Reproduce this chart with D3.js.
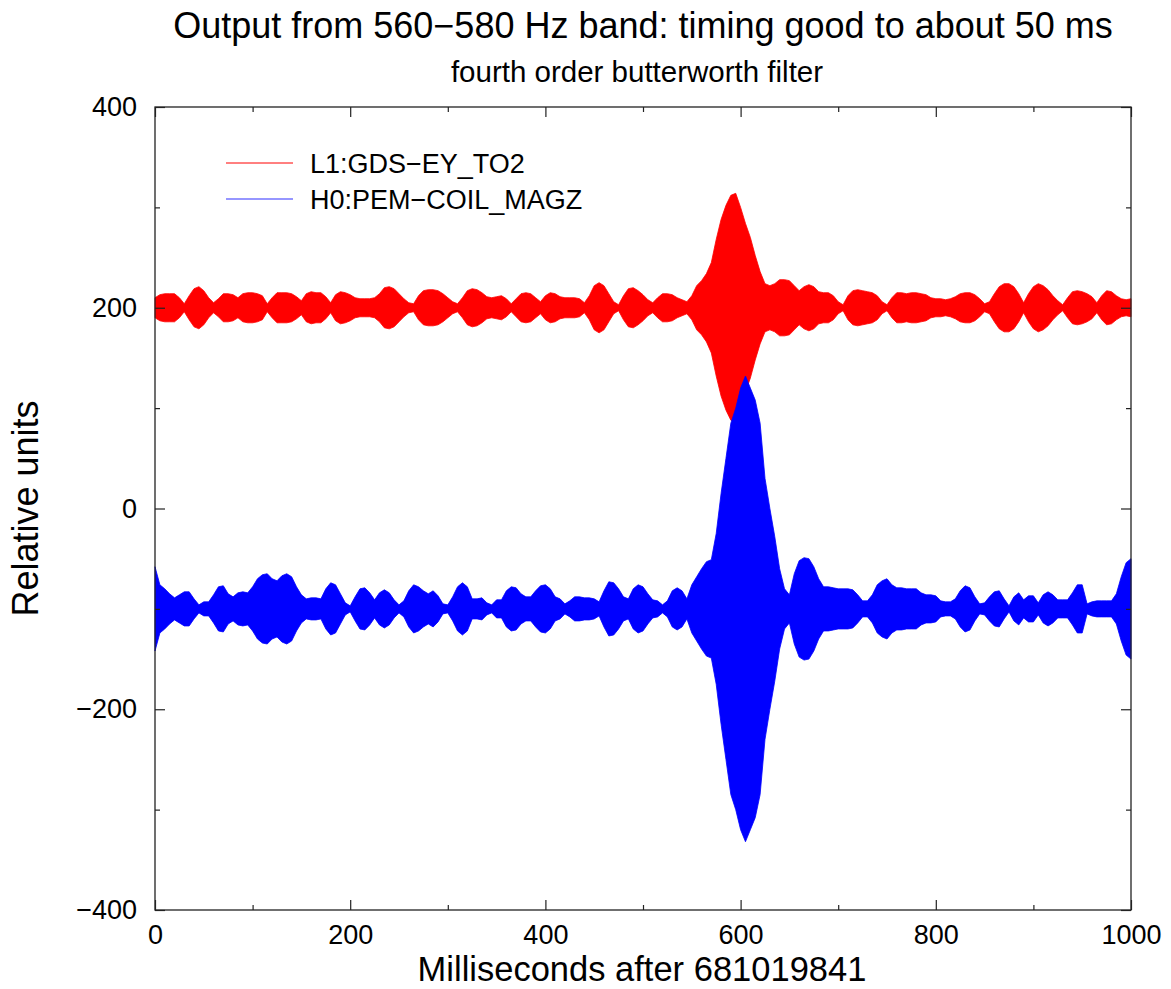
<!DOCTYPE html>
<html>
<head>
<meta charset="utf-8">
<script src="https://cdn.jsdelivr.net/npm/d3@7"></script>
<style>
  body { margin: 0; background: #fff; }
  text { font-family: "Liberation Sans", Arial, sans-serif; fill: #000; }
</style>
</head>
<body>
<script>
// envelope of each band-passed trace, sampled every 5 ms (half-width in relative units)
const timesMs = d3.range(0, 1001, 5);

const redAmp = [
  10, 13, 14, 14, 14, 10, 4, 12, 19, 21,
  17, 10, 5, 9, 14, 14, 13, 10, 14, 15,
  15, 14, 12, 4, 10, 15, 15, 15, 14, 11,
  7, 14, 16, 15, 15, 11, 5, 13, 16, 15,
  13, 10, 9, 9, 9, 10, 14, 20, 21, 19,
  14, 9, 5, 4, 12, 17, 18, 18, 17, 14,
  10, 6, 4, 10, 17, 19, 18, 15, 11, 10,
  11, 12, 9, 4, 9, 14, 15, 14, 10, 6,
  12, 15, 14, 11, 10, 10, 10, 9, 5, 12,
  22, 25, 22, 14, 6, 3, 12, 19, 20, 17,
  13, 8, 5, 10, 14, 14, 13, 10, 8, 6,
  12, 22, 27, 34, 45, 68, 88, 102, 112, 114,
  100, 84, 70, 52, 36, 24, 22, 24, 28, 28,
  27, 22, 17, 21, 23, 21, 16, 15, 15, 12,
  6, 3, 12, 17, 18, 17, 16, 15, 12, 6,
  3, 10, 15, 15, 14, 15, 15, 14, 13, 10,
  9, 9, 8, 9, 11, 14, 15, 15, 13, 9,
  4, 6, 14, 21, 24, 24, 21, 14, 5, 14,
  21, 24, 22, 18, 12, 7, 3, 10, 16, 17,
  16, 14, 11, 5, 12, 17, 16, 12, 9, 8,
  9
];

const blueAmp = [
  42, 24, 20, 15, 11, 14, 17, 17, 10, 4,
  7, 7, 14, 22, 23, 15, 12, 16, 17, 16,
  22, 30, 34, 35, 30, 28, 33, 35, 32, 22,
  14, 10, 11, 11, 10, 20, 26, 24, 15, 6,
  3, 12, 20, 21, 16, 9, 16, 19, 16, 9,
  4, 8, 18, 24, 22, 18, 15, 18, 13, 5,
  4, 12, 22, 26, 22, 10, 10, 11, 6, 4,
  9, 9, 18, 22, 21, 15, 12, 12, 18, 23,
  24, 20, 12, 10, 5, 8, 12, 12, 11, 11,
  10, 7, 18, 27, 26, 20, 12, 10, 20, 24,
  22, 15, 9, 8, 4, 8, 18, 21, 18, 10,
  24, 32, 40, 47, 49, 75, 115, 150, 185, 200,
  220, 232, 220, 208, 185, 130, 100, 72, 40, 20,
  14, 35, 48, 51, 50, 42, 30, 22, 22, 21,
  20, 20, 20, 19, 14, 8, 8, 14, 24, 28,
  30, 24, 21, 21, 20, 20, 20, 16, 14, 14,
  13, 8, 7, 7, 10, 18, 23, 21, 12, 5,
  6, 12, 17, 18, 10, 3, 12, 16, 9, 13,
  13, 6, 14, 17, 14, 9, 9, 9, 16, 24,
  24, 5, 7, 8, 8, 8, 8, 15, 32, 46,
  50
];

const seriesNames = ["L1:GDS\u2212EY_TO2", "H0:PEM\u2212COIL_MAGZ"];
const seriesOffsets = [200, -100];
const seriesColors = ["#ff0000", "#0000ff"];

const xMajorTicks = [0, 200, 400, 600, 800, 1000];
const xMinorTicks = [100, 300, 500, 700, 900];
const yMajorTicks = [-400, -200, 0, 200, 400];
const yMinorTicks = [-300, -100, 100, 300];

const titleText = "Output from 560\u2212580 Hz band: timing good to about 50 ms";
const subtitleText = "fourth order butterworth filter";
const xLabel = "Milliseconds after 681019841";
const yLabel = "Relative units";

const W = 1171, H = 989;
const plotL = 155, plotR = 1131, plotT = 107, plotB = 910;

const svg = d3.select("body")
    .append("svg")
    .attr("width", W)
    .attr("height", H);

const x = d3.scaleLinear().domain([0, 1000]).range([plotL, plotR]);
const y = d3.scaleLinear().domain([-400, 400]).range([plotB, plotT]);

// traces
[redAmp, blueAmp].forEach(function (amp, i) {
    const area = d3.area()
        .x(function (d, j) { return x(timesMs[j]); })
        .y0(function (d) { return y(seriesOffsets[i] - d); })
        .y1(function (d) { return y(seriesOffsets[i] + d); });

    svg.append("path")
        .datum(amp)
        .attr("d", area)
        .attr("fill", seriesColors[i])
        .attr("stroke", seriesColors[i])
        .attr("stroke-width", 0.8);
});

// frame
svg.append("rect")
    .attr("x", plotL)
    .attr("y", plotT)
    .attr("width", plotR - plotL)
    .attr("height", plotB - plotT)
    .attr("fill", "none")
    .attr("stroke", "#222")
    .attr("stroke-width", 1.3);

const fmt = function (d) { return d3.format("d")(d); };

function ticks(axisFn, scale, major, minor, transform, labels, pad) {
    const gMaj = svg.append("g")
        .attr("transform", transform)
        .call(axisFn(scale).tickValues(major).tickSize(-10).tickPadding(pad || 8)
            .tickFormat(labels ? fmt : ""));
    const gMin = svg.append("g")
        .attr("transform", transform)
        .call(axisFn(scale).tickValues(minor).tickSize(-5).tickFormat(""));
    [gMaj, gMin].forEach(function (g) {
        g.select(".domain").remove();
        g.selectAll("line").attr("stroke", "#222").attr("stroke-width", 1.2);
    });
    return gMaj;
}

const gx = ticks(d3.axisBottom, x, xMajorTicks, xMinorTicks, `translate(0,${plotB})`, true, 15);
ticks(d3.axisTop, x, xMajorTicks, xMinorTicks, `translate(0,${plotT})`, false);
const gy = ticks(d3.axisLeft, y, yMajorTicks, yMinorTicks, `translate(${plotL},0)`, true, 18);
ticks(d3.axisRight, y, yMajorTicks, yMinorTicks, `translate(${plotR},0)`, false);

[gx, gy].forEach(function (g) {
    g.selectAll("text")
        .attr("font-size", 27)
        .attr("font-family", "Liberation Sans, Arial, sans-serif")
        .attr("fill", "#000");
});

// titles
svg.append("text")
    .attr("x", 643)
    .attr("y", 38)
    .attr("text-anchor", "middle")
    .attr("font-size", 36)
    .text(titleText);

svg.append("text")
    .attr("x", 637)
    .attr("y", 82)
    .attr("text-anchor", "middle")
    .attr("font-size", 29.5)
    .text(subtitleText);

svg.append("text")
    .attr("x", 642)
    .attr("y", 981)
    .attr("text-anchor", "middle")
    .attr("font-size", 34.5)
    .text(xLabel);

svg.append("text")
    .attr("transform", `translate(38,${(plotT + plotB) / 2}) rotate(-90)`)
    .attr("text-anchor", "middle")
    .attr("font-size", 36)
    .text(yLabel);

// legend
seriesNames.forEach(function (name, i) {
    const ly = 163 + i * 36;
    svg.append("line")
        .attr("x1", 226)
        .attr("x2", 293)
        .attr("y1", ly)
        .attr("y2", ly)
        .attr("stroke", seriesColors[i])
        .attr("stroke-width", i === 0 ? 1 : 1.6)
        .attr("stroke-opacity", i === 0 ? 1 : 0.55);
    svg.append("text")
        .attr("x", 310)
        .attr("y", ly + 10)
        .attr("font-size", 27)
        .text(name);
});
</script>
</body>
</html>
